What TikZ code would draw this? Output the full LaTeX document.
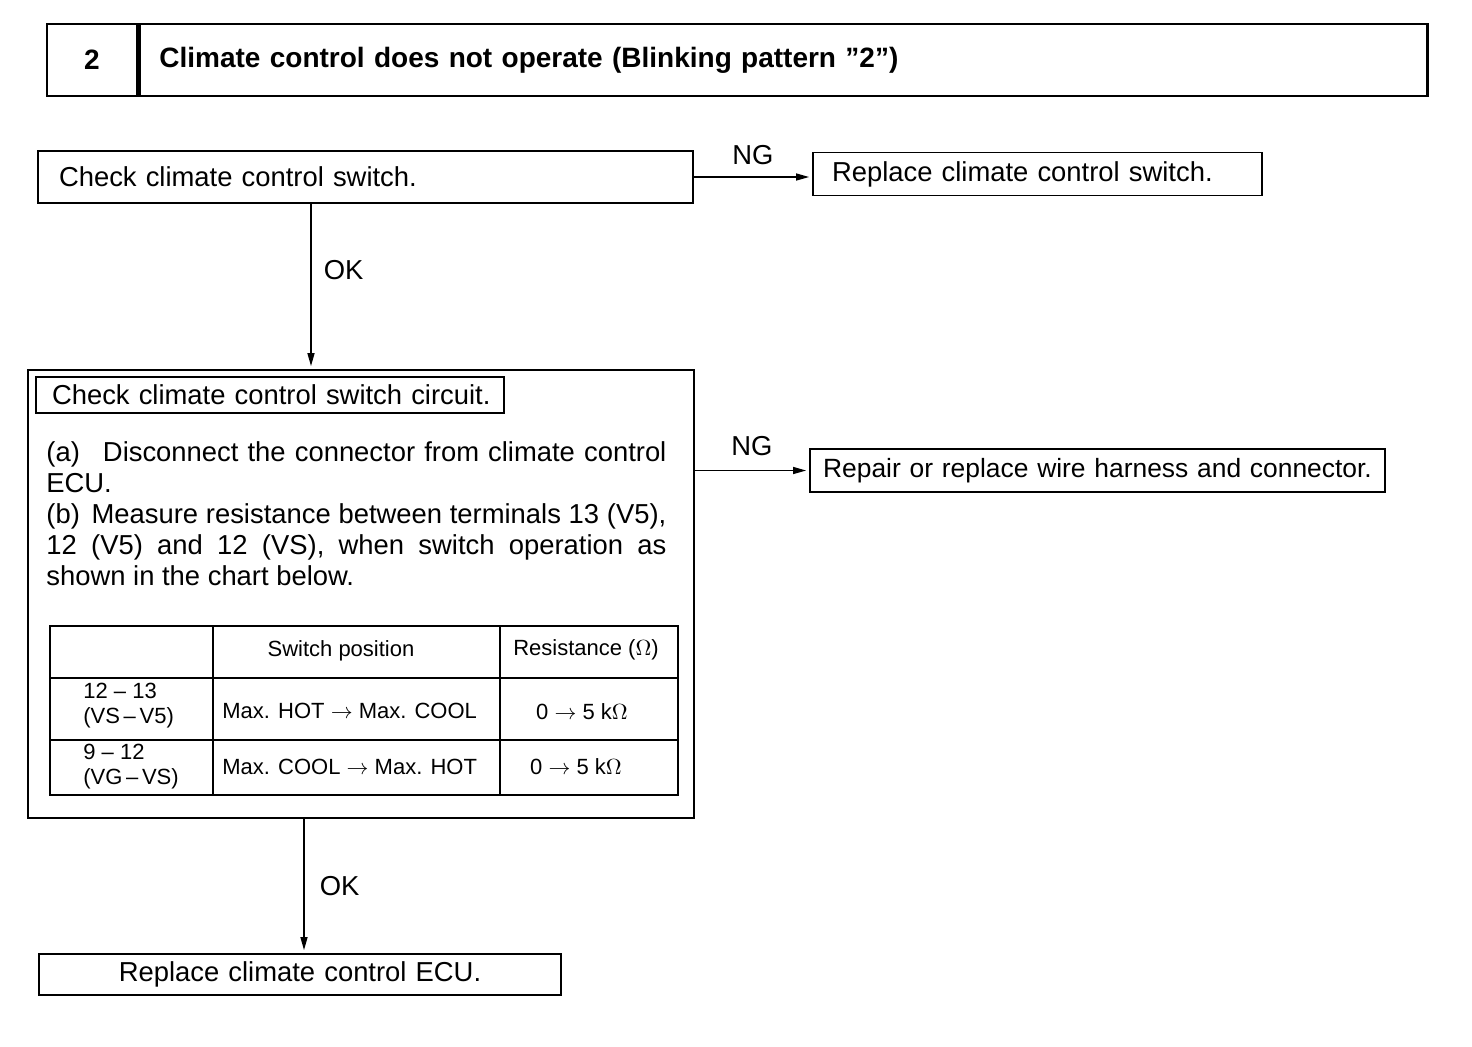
\documentclass[tikz,border=0pt]{standalone}
\usepackage{fontspec}
\setmainfont{Liberation Sans}
\usetikzlibrary{arrows.meta,positioning}

\begin{document}
\begin{tikzpicture}[
  x=0.5pt, y=-0.5pt,
  font=\fontsize{13.7}{15.5}\selectfont,
  box/.style={draw, line width=0.9pt, inner ysep=0pt, align=left},
  cbox/.style={draw, line width=0.9pt, inner ysep=0pt, inner xsep=3pt, align=center},
  head/.style={draw, line width=1.2pt, inner ysep=0pt, minimum height=36pt, font=\fontsize{14}{16}\selectfont\bfseries},
  grid/.style={line width=0.9pt},
  cell/.style={inner sep=0pt, font=\fontsize{11}{12.5}\selectfont, align=left},
  arrow/.style={-{Triangle[length=6.5pt,width=3.5pt]}, line width=0.7pt, shorten >=1.5pt}
]
\useasboundingbox (0,0) rectangle (1472,1046);

% title bar
\node[head, minimum width=45pt] (num) at (92,60) {2};
\node[head, text width=624pt, inner xsep=10pt, align=left, anchor=west] (title) at (num.east)
  {Climate control does not operate (Blinking pattern ”2”)};

% first check
\node[box, text width=306.5pt, inner xsep=10.5pt, minimum height=26pt] (chk) at (365.5,177)
  {Check climate control switch.};
\node[box, text width=205.5pt, inner xsep=9.5pt, minimum height=21.5pt] (repsw) at (1037.5,174)
  {Replace climate control switch.};

% circuit check
\node[draw, line width=0.9pt, minimum width=333pt, minimum height=224pt] (circ) at (361,594) {};
\node[box, text width=218pt, inner xsep=8pt, minimum height=18pt] (circt) at (270,395)
  {\mbox{Check climate control switch circuit.}};
\node[inner sep=0pt, text width=310pt, align=justify, anchor=north west] (steps) at (46,441)
  {(a)\hspace{7pt} Disconnect the connector from climate control\linebreak
   ECU.\\
   (b)\hspace{2pt} Measure resistance between terminals 13 (V5),\linebreak
   12 (V5) and 12 (VS), when switch operation as\linebreak
   shown in the chart below.};

\node[cbox, text width=281.5pt, minimum height=21.5pt, font=\fontsize{13.2}{15}\selectfont] (wire) at (1097.5,470.5)
  {\mbox{Repair or replace wire harness and connector.}};

% chart
\draw[grid] (50,626) rectangle (678,795);
\draw[grid] (213,626) -- (213,795);
\draw[grid] (500,626) -- (500,795);
\draw[grid] (50,678) -- (678,678);
\draw[grid] (50,740) -- (678,740);

\node[cell] (hpos) at (341,651) {Switch position};
\node[cell] (hres) at (586,650) {Resistance ($\Omega$)};
\node[cell, anchor=west] (pinA) at (83,706) {12 – 13\\(VS\,–\,V5)};
\node[cell, anchor=west] (posA) at (222,711) {Max. HOT $\rightarrow$ Max. COOL};
\node[cell] (resA) at (582,712) {0 $\rightarrow$ 5 k$\Omega$};
\node[cell, anchor=west] (pinB) at (83,767) {9 – 12\\(VG\,–\,VS)};
\node[cell, anchor=west] (posB) at (222,767) {Max. COOL $\rightarrow$ Max. HOT};
\node[cell] (resB) at (576,767) {0 $\rightarrow$ 5 k$\Omega$};

% last step
\node[cbox, text width=255pt, minimum height=20.5pt] (ecu) at (300,974.5)
  {Replace climate control ECU.};

\coordinate (okA) at (311,0);
\coordinate (okB) at (304,0);

\draw[arrow] (chk.east) -- node[above=2.5pt] {NG} (chk.east -| repsw.west);
\draw[arrow] (chk.south -| okA) -- node[right=2.7pt, pos=0.4] {OK} (circ.north -| okA);
\draw[arrow] (circ.east |- wire.west) -- node[above=3.5pt] {NG} (wire.west);
\draw[arrow] (circ.south -| okB) -- node[right=4.2pt] {OK} (ecu.north -| okB);

\end{tikzpicture}
\end{document}
